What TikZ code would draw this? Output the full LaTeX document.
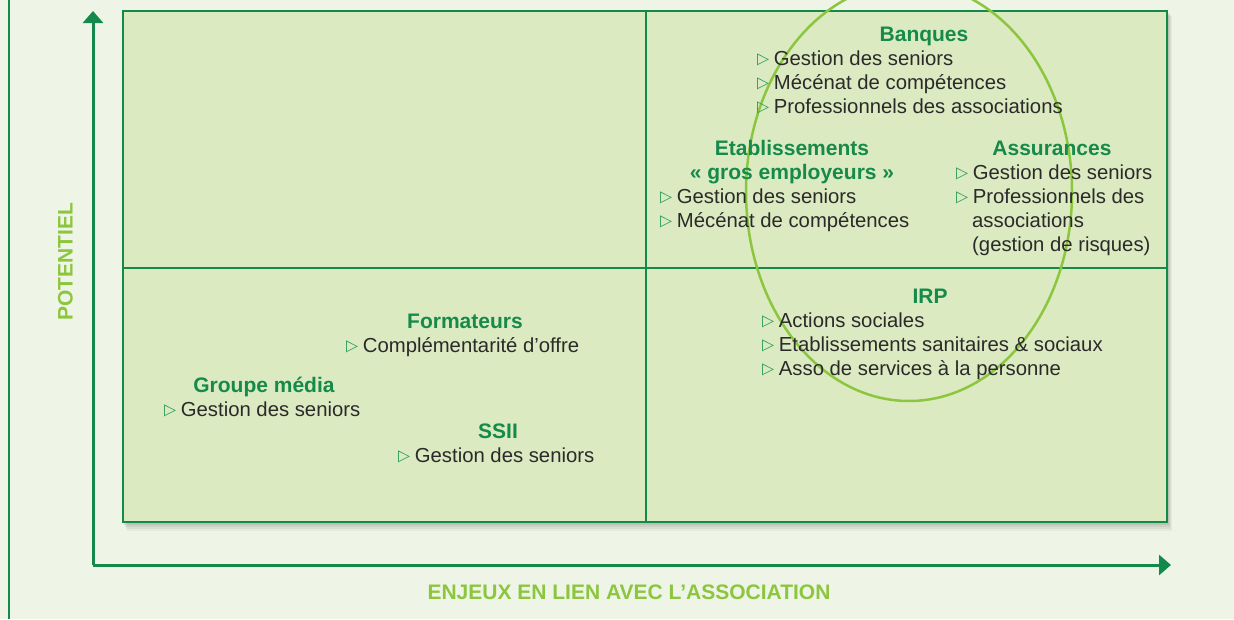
\documentclass[tikz,border=0pt]{standalone}
\usepackage{fontspec}
\setmainfont{Liberation Sans}
\usetikzlibrary{arrows.meta}
\definecolor{bgc}{HTML}{EFF5E6}
\definecolor{boxc}{HTML}{DBEAC1}
\definecolor{dgreen}{HTML}{138A4C}
\definecolor{tgreen}{HTML}{168A4A}
\definecolor{lgreen}{HTML}{8CC63F}
\definecolor{bulc}{HTML}{3AA362}
\definecolor{txtc}{HTML}{2A2A2A}
\newcommand{\bul}{\tikz[baseline=0pt]\draw[draw=bulc,line width=0.7pt,line join=miter] (0.5pt,0.3pt)--(0.5pt,11pt)--(11pt,5.65pt)--cycle;\hspace{5.5pt}}
\tikzset{
  title/.style={anchor=base, inner sep=0pt, font=\fontsize{21}{24}\selectfont\bfseries, text=tgreen},
  item/.style={anchor=base west, inner sep=0pt, font=\fontsize{20.3}{24}\selectfont, text=txtc},
  axlabel/.style={inner sep=0pt, font=\fontsize{21}{24}\selectfont\bfseries, text=lgreen},
  axis/.style={draw=dgreen, line width=3pt},
}
\begin{document}
\begin{tikzpicture}[x=1pt,y=-1pt]
\useasboundingbox (0,0) rectangle (1234,619);
\fill[bgc] (0,0) rectangle (1234,619);
\draw[dgreen, line width=2pt] (9,0) -- (9,619);
% shadow
\foreach \d/\o in {9/0.04,7/0.05,5/0.06,3/0.07}{
  \fill[black,opacity=\o] (123+\d*0.4,11+\d*0.6) rectangle (1167+\d*0.6,522+\d);
}
% main box
\draw[dgreen, line width=1.5pt, fill=boxc] (123,11) rectangle (1167,522);
\coordinate (tm) at (646,11); \coordinate (bm) at (646,522);
\coordinate (lm) at (123,268); \coordinate (rm) at (1167,268);
\draw[dgreen, line width=1.5pt] (tm) -- (bm);
\draw[dgreen, line width=1.5pt] (lm) -- (rm);
% axes
\coordinate (org) at (93,565);
\coordinate (ytip) at (93,11);
\coordinate (xtip) at (1171,565);
\draw[axis, -{Triangle[width=20pt,length=12pt]}] (org) -- (ytip);
\draw[axis, -{Triangle[width=20pt,length=12pt]}] (org) -- (xtip);
\node[axlabel, rotate=90] (ylab) at (65.5,262) {POTENTIEL};
\node[axlabel] (xlab) at (629,592.5) {ENJEUX EN LIEN AVEC L’ASSOCIATION};
% ellipse
\draw[lgreen, line width=2.5pt] (909,192) ellipse [x radius=163, y radius=209];
% Banques
\node[title] (banq) at (924,41) {Banques};
\node[item] (b1) at (757,65) {\bul Gestion des seniors};
\node[item] (b2) at (757,89) {\bul Mécénat de compétences};
\node[item] (b3) at (757,113) {\bul Professionnels des associations};
% Etablissements
\node[title] (etab) at (792,155) {Etablissements};
\node[title] (etab2) at (792,179) {« gros employeurs »};
\node[item] (e1) at (660,203) {\bul Gestion des seniors};
\node[item] (e2) at (660,227) {\bul Mécénat de compétences};
% Assurances
\node[title] (assu) at (1052,155) {Assurances};
\node[item] (a1) at (956,179) {\bul Gestion des seniors};
\node[item] (a2) at (956,203) {\bul Professionnels des};
\node[item] (a3) at (972,227) {associations};
\node[item] (a4) at (972,251) {(gestion de risques)};
% IRP
\node[title] (irp) at (930,303) {IRP};
\node[item] (i1) at (762,327) {\bul Actions sociales};
\node[item] (i2) at (762,351) {\bul Etablissements sanitaires \& sociaux};
\node[item] (i3) at (762,375) {\bul Asso de services à la personne};
% Formateurs
\node[title] (form) at (465,328) {Formateurs};
\node[item] (f1) at (346,352) {\bul Complémentarité d’offre};
% Groupe media
\node[title] (grp) at (264,392) {Groupe média};
\node[item] (g1) at (164,416) {\bul Gestion des seniors};
% SSII
\node[title] (ssii) at (498,438) {SSII};
\node[item] (s1) at (398,462) {\bul Gestion des seniors};
\end{tikzpicture}
\end{document}
